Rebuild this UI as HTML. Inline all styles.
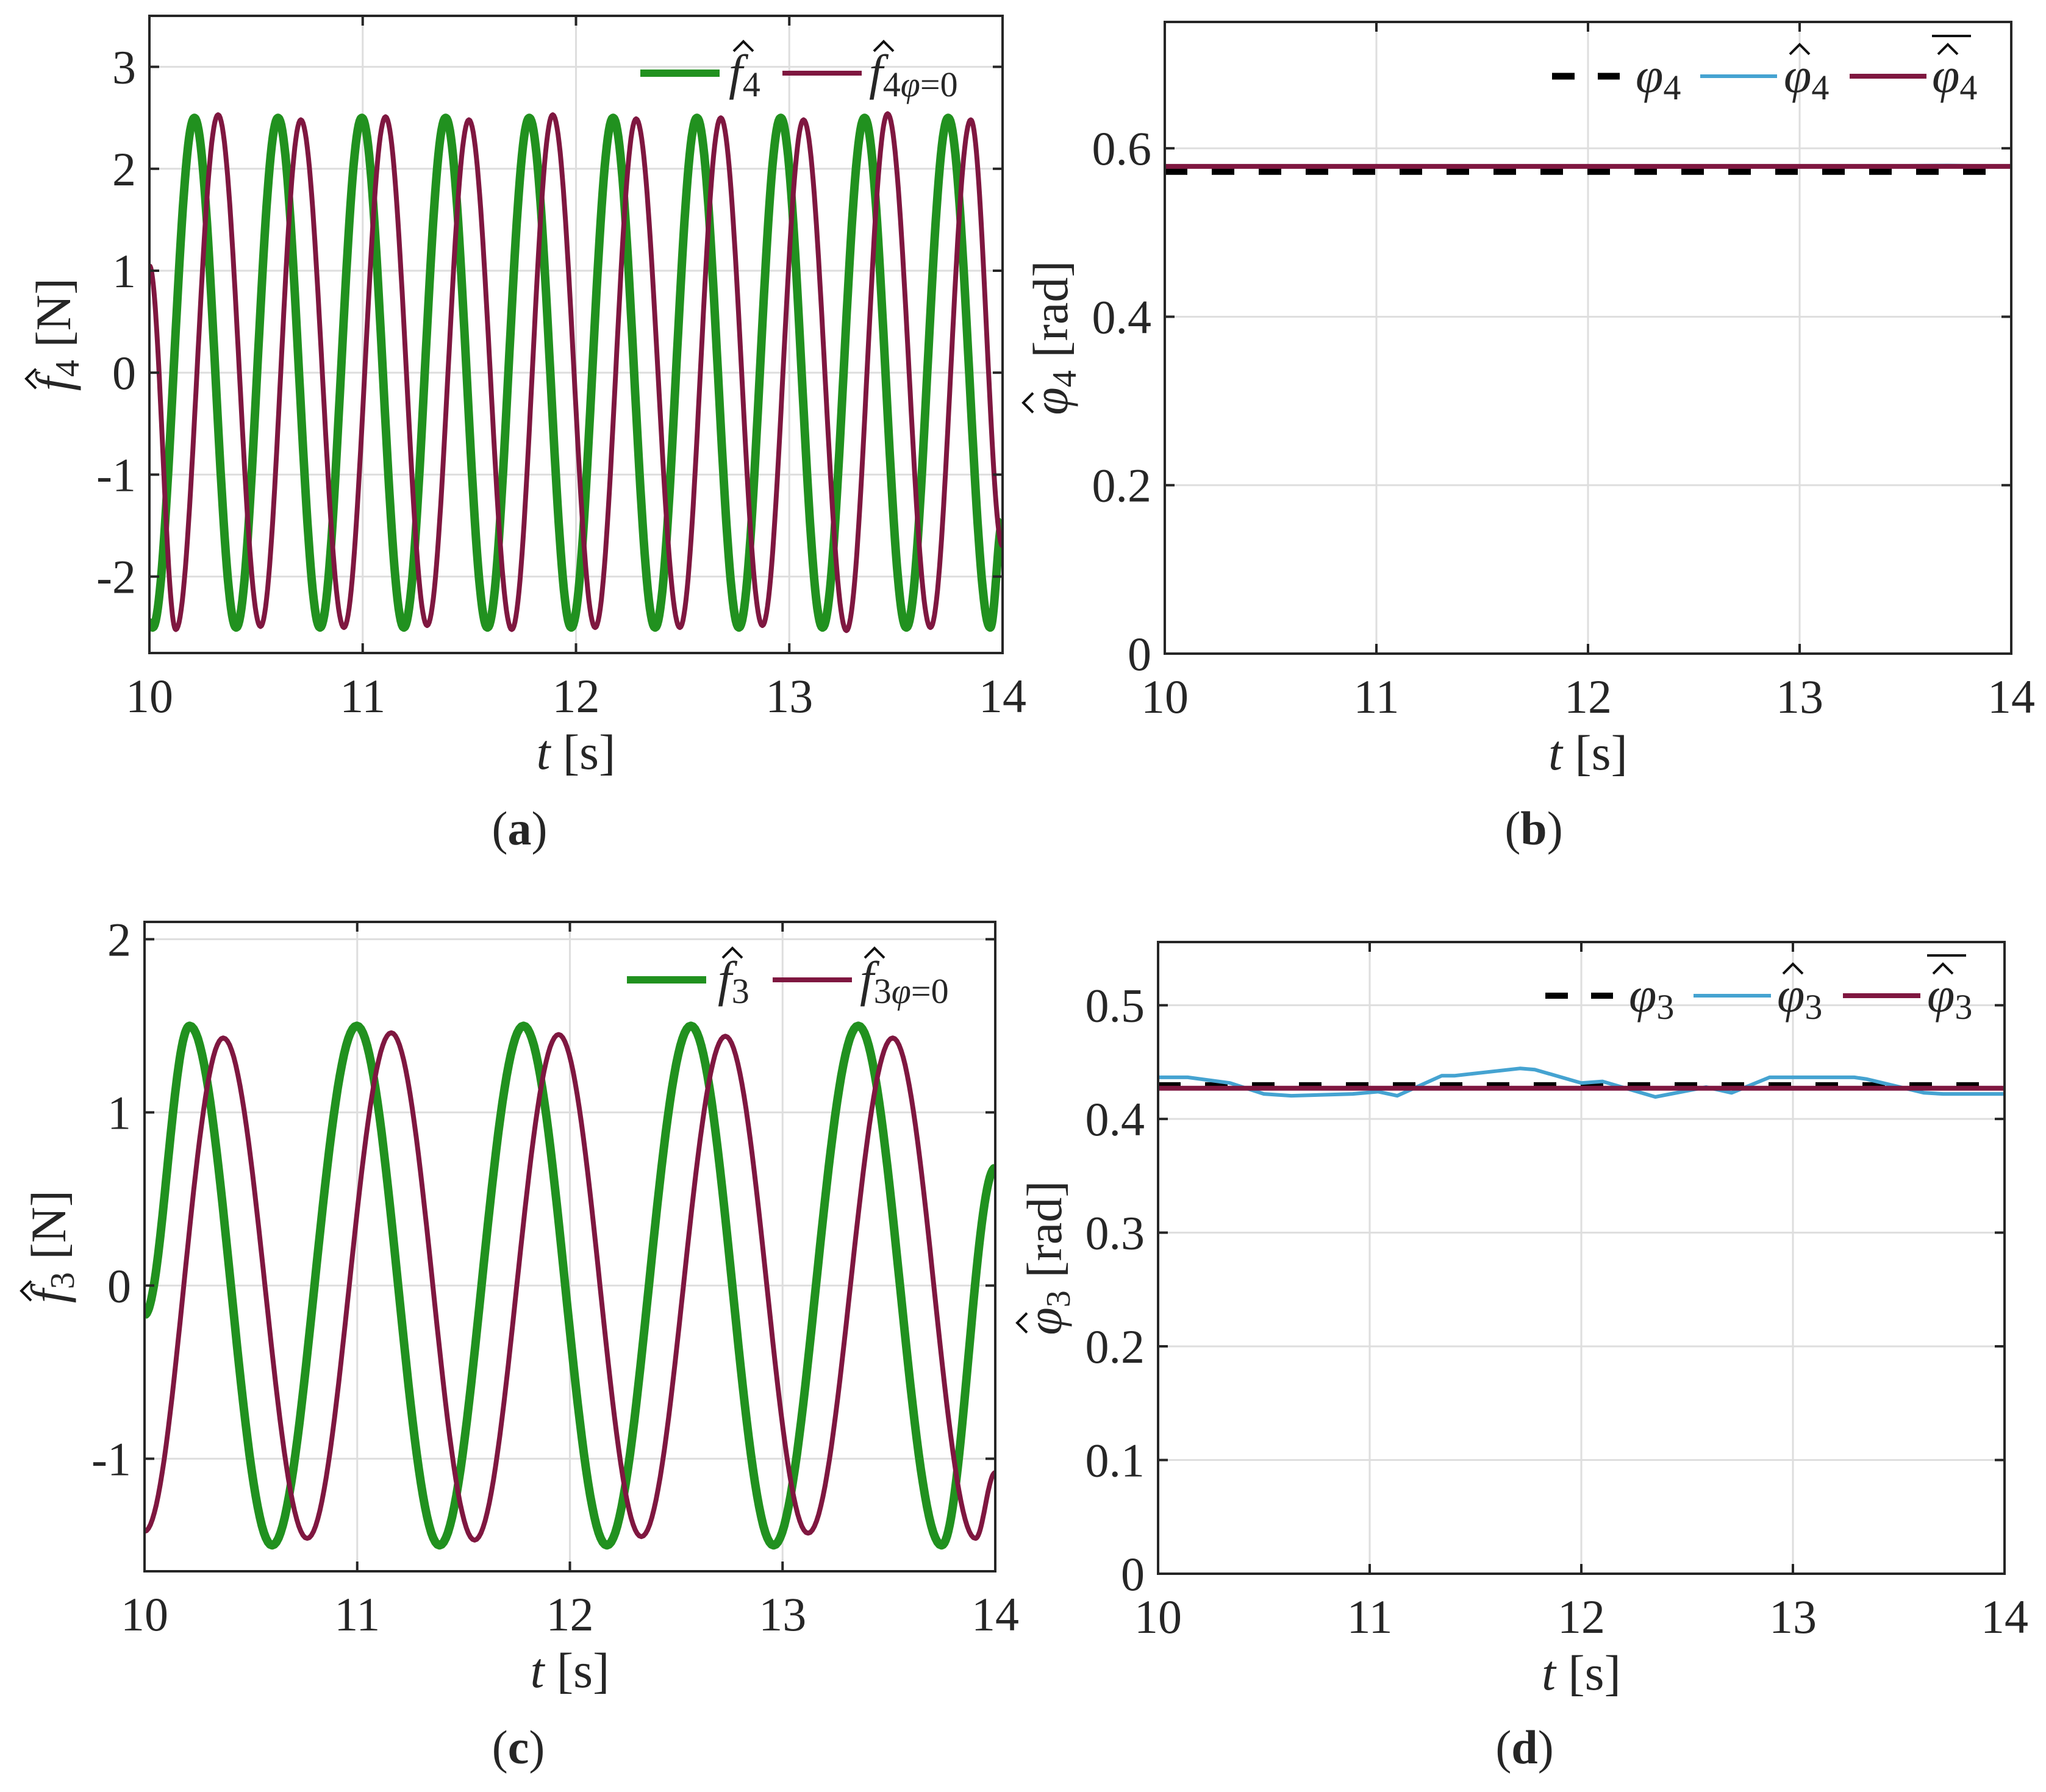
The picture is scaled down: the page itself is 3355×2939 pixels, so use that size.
<!DOCTYPE html>
<html><head><meta charset="utf-8"><style>
html,body{margin:0;padding:0;background:#fff;}
svg{display:block;}
text{font-family:"Liberation Serif",serif;fill:#262626;}
</style></head><body>
<svg id="fig" xmlns="http://www.w3.org/2000/svg" width="3355" height="2939" viewBox="0 0 3355 2939"></svg>
<script>
// ---------- Panel (a) data: extrema keypoints [t, value] ----------
const aGreenT = [10, 10.015, 10.211, 10.407, 10.603, 10.8, 10.996, 11.193, 11.389, 11.585, 11.781, 11.978, 12.174, 12.371, 12.567, 12.764, 12.96, 13.156, 13.353, 13.549, 13.745, 13.942, 14];
const aGreenV = [-2.45, -2.5, 2.5, -2.5, 2.5, -2.5, 2.5, -2.5, 2.5, -2.5, 2.5, -2.5, 2.5, -2.5, 2.5, -2.5, 2.5, -2.5, 2.5, -2.5, 2.5, -2.5, -1.46];
const aPurpleT = [10, 10.124, 10.322, 10.521, 10.71, 10.912, 11.107, 11.302, 11.498, 11.699, 11.891, 12.09, 12.282, 12.487, 12.679, 12.874, 13.067, 13.268, 13.461, 13.662, 13.851, 14];
const aPurpleV = [1.05, -2.52, 2.53, -2.49, 2.48, -2.5, 2.51, -2.48, 2.48, -2.52, 2.53, -2.5, 2.49, -2.5, 2.5, -2.48, 2.48, -2.53, 2.54, -2.5, 2.48, -1.7];
// ---------- Panel (b) data ----------
const bRefT = [10, 14];
const bRefV = [0.5725, 0.5725];
const bEstT = [10, 12.9, 13.7, 14];
const bEstV = [0.5785, 0.578, 0.5795, 0.5785];
const bMeanT = [10, 14];
const bMeanV = [0.5785, 0.5785];
// ---------- Panel (c) data ----------
const cGreenT = [10, 10.212, 10.6, 10.998, 11.387, 11.782, 12.174, 12.569, 12.958, 13.356, 13.748, 14];
const cGreenV = [-0.17, 1.5, -1.5, 1.5, -1.5, 1.5, -1.5, 1.5, -1.5, 1.5, -1.5, 0.68];
const cPurpleT = [10, 10.37, 10.765, 11.16, 11.552, 11.947, 12.336, 12.731, 13.12, 13.518, 13.907, 14];
const cPurpleV = [-1.42, 1.43, -1.46, 1.46, -1.47, 1.45, -1.45, 1.44, -1.43, 1.43, -1.46, -1.08];
// ---------- Panel (d) data ----------
const dRefT = [10, 14];
const dRefV = [0.4296, 0.4296];
const dEstT = [10, 10.14, 10.34, 10.5, 10.63, 10.92, 11.04, 11.13, 11.34, 11.4, 11.71, 11.78, 12.0, 12.1, 12.35, 12.59, 12.71, 12.89, 13.29, 13.35, 13.62, 13.71, 14];
const dEstV = [0.4366, 0.4366, 0.4316, 0.422, 0.4204, 0.422, 0.424, 0.4204, 0.438, 0.438, 0.4444, 0.4434, 0.4316, 0.433, 0.4194, 0.428, 0.423, 0.4366, 0.4366, 0.435, 0.423, 0.422, 0.422];
const dMeanT = [10, 14];
const dMeanV = [0.427, 0.427];
// ---------- Tick labels ----------
const xTicks = [10, 11, 12, 13, 14];
const aYTicks = [-2, -1, 0, 1, 2, 3];
const bYTicks = [0, 0.2, 0.4, 0.6];
const cYTicks = [-1, 0, 1, 2];
const dYTicks = [0, 0.1, 0.2, 0.3, 0.4, 0.5];

const NS = "http://www.w3.org/2000/svg";
const fig = document.getElementById('fig');
const GREEN = '#21911f', PURPLE = '#7f1740', BLUE = '#45a3d1', AX = '#262626';

function mk(tag, attrs, parent) {
  const e = document.createElementNS(NS, tag);
  for (const k in attrs) e.setAttribute(k, attrs[k]);
  (parent || fig).appendChild(e);
  return e;
}

function smoothPath(T, V, sx, sy) {
  let d = '';
  for (let i = 0; i < T.length - 1; i++) {
    const n = 40;
    for (let k = (i === 0 ? 0 : 1); k <= n; k++) {
      const u = k / n;
      const t = T[i] + (T[i + 1] - T[i]) * u;
      const w = (1 - Math.cos(Math.PI * u)) / 2;
      const v = V[i] + (V[i + 1] - V[i]) * w;
      d += (d ? 'L' : 'M') + sx(t).toFixed(1) + ',' + sy(v).toFixed(1);
    }
  }
  return d;
}
function linePath(T, V, sx, sy) {
  return T.map((t, i) => (i ? 'L' : 'M') + sx(t).toFixed(1) + ',' + sy(V[i]).toFixed(1)).join('');
}

function panel(p) {
  const g = mk('g', {});
  
  
  const sx = t => p.x0 + (t - 10) / 4 * (p.x1 - p.x0);
  const sy = v => p.y1 - (v - p.ymin) / (p.ymax - p.ymin) * (p.y1 - p.y0);
  const grid = mk('g', {}, g);
  
  
  xTicks.forEach(t => mk('line', {x1: sx(t), x2: sx(t), y1: p.y0, y2: p.y1, stroke: '#dedede', 'stroke-width': 3}, grid));
  p.yt.forEach(v => mk('line', {x1: p.x0, x2: p.x1, y1: sy(v), y2: sy(v), stroke: '#dedede', 'stroke-width': 3}, grid));
  const clip = 'clip-' + p.name;
  const cp = mk('clipPath', {id: clip}, g);
  mk('rect', {x: p.x0, y: p.y0, width: p.x1 - p.x0, height: p.y1 - p.y0}, cp);
  const sg = mk('g', {'clip-path': 'url(#' + clip + ')'}, g);
  p.series.forEach(s => {
    const path = mk('path', {d: s.smooth ? smoothPath(s.T, s.V, sx, sy) : linePath(s.T, s.V, sx, sy), fill: 'none', stroke: s.color, 'stroke-width': s.w, 'stroke-linejoin': 'round', 'stroke-dasharray': s.dash || 'none'}, sg);
    
    
  });
  const ax = mk('g', {}, g);
  
  
  mk('rect', {x: p.x0, y: p.y0, width: p.x1 - p.x0, height: p.y1 - p.y0, fill: 'none', stroke: AX, 'stroke-width': 4}, ax);
  xTicks.forEach(t => {
    mk('line', {x1: sx(t), x2: sx(t), y1: p.y1, y2: p.y1 - 16, stroke: AX, 'stroke-width': 4}, ax);
    mk('line', {x1: sx(t), x2: sx(t), y1: p.y0, y2: p.y0 + 16, stroke: AX, 'stroke-width': 4}, ax);
    const tx = mk('text', {x: sx(t), y: p.y1 + 97, 'font-size': 78, 'text-anchor': 'middle'}, ax);
    tx.textContent = t;
    
    
  });
  p.yt.forEach(v => {
    mk('line', {x1: p.x0, x2: p.x0 + 16, y1: sy(v), y2: sy(v), stroke: AX, 'stroke-width': 4}, ax);
    mk('line', {x1: p.x1, x2: p.x1 - 16, y1: sy(v), y2: sy(v), stroke: AX, 'stroke-width': 4}, ax);
    const ty = mk('text', {x: p.x0 - 22, y: sy(v) + 27, 'font-size': 78, 'text-anchor': 'end'}, ax);
    ty.textContent = v;
    
    
  });
  const xl = mk('text', {x: (p.x0 + p.x1) / 2, y: p.y1 + 190, 'font-size': 82, 'text-anchor': 'middle'}, g);
  xl.innerHTML = '<tspan font-style="italic">t</tspan> [s]';
  
  
  // y label (rotated group, hat drawn after measuring)
  const cy = (p.y0 + p.y1) / 2;
  const yg = mk('g', {transform: 'translate(' + p.ylx + ',' + cy + ') rotate(-90)'}, g);
  const yl = mk('text', {x: 0, y: 0, 'font-size': 82, 'text-anchor': 'middle'}, yg);
  yl.innerHTML = '<tspan font-style="italic">' + p.ysym + '</tspan><tspan font-size="56" dy="14">' + p.ysub + '</tspan><tspan dy="-14"> ' + p.yunit + '</tspan>';
  
  
  const w = yl.getComputedTextLength();
  mk('path', {d: 'M' + (-w / 2 + 4) + ',-56 l16,-16 l16,16', fill: 'none', stroke: '#111', 'stroke-width': 4}, yg);
  const cap = mk('text', {x: p.capx, y: p.capy, 'font-size': 78, 'text-anchor': 'middle'}, g);
  cap.innerHTML = '(<tspan font-weight="bold">' + p.cap + '</tspan>)';
  
  
  const lg = mk('g', {}, g);
  
  
  p.legend.forEach(L => {
    const e = mk('g', {}, lg);
    
    
    mk('line', {x1: L.x1, x2: L.x2, y1: p.ly, y2: p.ly, stroke: L.color, 'stroke-width': L.w, 'stroke-dasharray': L.dash || 'none'}, e);
    const t = mk('text', {x: L.tx, y: p.ly + 26, 'font-size': 82}, e);
    t.innerHTML = L.html;
    if (L.hat) mk('path', {d: 'M' + (L.tx + L.hx) + ',' + (p.ly - 36) + ' l16,-16 l16,16', fill: 'none', stroke: '#111', 'stroke-width': 4}, e);
    if (L.bar) mk('line', {x1: L.tx, x2: L.tx + 64, y1: p.ly - 66, y2: p.ly - 66, stroke: '#111', 'stroke-width': 4}, e);
  });
}

const fsub = (n, extra) => '<tspan font-style="italic">f</tspan><tspan font-size="58" dy="12">' + n + (extra || '') + '</tspan>';
const phisub = n => '<tspan font-style="italic">φ</tspan><tspan font-size="58" dy="12">' + n + '</tspan>';

panel({name: 'panel-a', x0: 245, x1: 1644, y0: 26, y1: 1071, ymin: -2.75, ymax: 3.5, yt: aYTicks, ylx: 115,
  ysym: 'f', ysub: '4', yunit: '[N]',
  cap: 'a', capx: 852, capy: 1385, ly: 120,
  series: [
    {name: 'f4-hat-line', T: aGreenT, V: aGreenV, color: GREEN, w: 14, smooth: true},
    {name: 'f4-phi0-line', T: aPurpleT, V: aPurpleV, color: PURPLE, w: 8, smooth: true}],
  legend: [
    {x1: 1050, x2: 1180, color: GREEN, w: 12, tx: 1195, html: fsub('4'), hat: true, hx: 8},
    {x1: 1283, x2: 1413, color: PURPLE, w: 8, tx: 1425, html: fsub('4', '<tspan font-style="italic">φ</tspan>=0'), hat: true, hx: 8}]});

panel({name: 'panel-b', x0: 1910, x1: 3298, y0: 36, y1: 1072, ymin: 0, ymax: 0.75, yt: bYTicks, ylx: 1750,
  ysym: 'φ', ysub: '4', yunit: '[rad]',
  cap: 'b', capx: 2515, capy: 1385, ly: 125,
  series: [
    {name: 'phi4-reference-line', T: bRefT, V: bRefV, color: '#000', w: 11, dash: '37 40'},
    {name: 'phi4-hat-line', T: bEstT, V: bEstV, color: BLUE, w: 6},
    {name: 'phi4-mean-line', T: bMeanT, V: bMeanV, color: PURPLE, w: 8}],
  legend: [
    {x1: 2545, x2: 2656, color: '#000', w: 11, dash: '37 38', tx: 2682, html: phisub('4')},
    {x1: 2788, x2: 2914, color: BLUE, w: 6, tx: 2925, html: phisub('4'), hat: true, hx: 10},
    {x1: 3033, x2: 3159, color: PURPLE, w: 8, tx: 3168, html: phisub('4'), hat: true, hx: 10, bar: true}]});

panel({name: 'panel-c', x0: 237, x1: 1632, y0: 1512, y1: 2577, ymin: -1.65, ymax: 2.1, yt: cYTicks, ylx: 107,
  ysym: 'f', ysub: '3', yunit: '[N]',
  cap: 'c', capx: 850, capy: 2892, ly: 1607,
  series: [
    {name: 'f3-hat-line', T: cGreenT, V: cGreenV, color: GREEN, w: 14, smooth: true},
    {name: 'f3-phi0-line', T: cPurpleT, V: cPurpleV, color: PURPLE, w: 8, smooth: true}],
  legend: [
    {x1: 1028, x2: 1158, color: GREEN, w: 12, tx: 1177, html: fsub('3'), hat: true, hx: 8},
    {x1: 1267, x2: 1397, color: PURPLE, w: 8, tx: 1410, html: fsub('3', '<tspan font-style="italic">φ</tspan>=0'), hat: true, hx: 8}]});

panel({name: 'panel-d', x0: 1899, x1: 3287, y0: 1545, y1: 2581, ymin: 0, ymax: 0.5556, yt: dYTicks, ylx: 1740,
  ysym: 'φ', ysub: '3', yunit: '[rad]',
  cap: 'd', capx: 2500, capy: 2892, ly: 1633,
  series: [
    {name: 'phi3-reference-line', T: dRefT, V: dRefV, color: '#000', w: 10, dash: '37 40'},
    {name: 'phi3-hat-line', T: dEstT, V: dEstV, color: BLUE, w: 6},
    {name: 'phi3-mean-line', T: dMeanT, V: dMeanV, color: PURPLE, w: 8}],
  legend: [
    {x1: 2534, x2: 2645, color: '#000', w: 10, dash: '37 38', tx: 2671, html: phisub('3')},
    {x1: 2777, x2: 2904, color: BLUE, w: 6, tx: 2914, html: phisub('3'), hat: true, hx: 10},
    {x1: 3022, x2: 3149, color: PURPLE, w: 8, tx: 3160, html: phisub('3'), hat: true, hx: 10, bar: true}]});
</script>
</body></html>
